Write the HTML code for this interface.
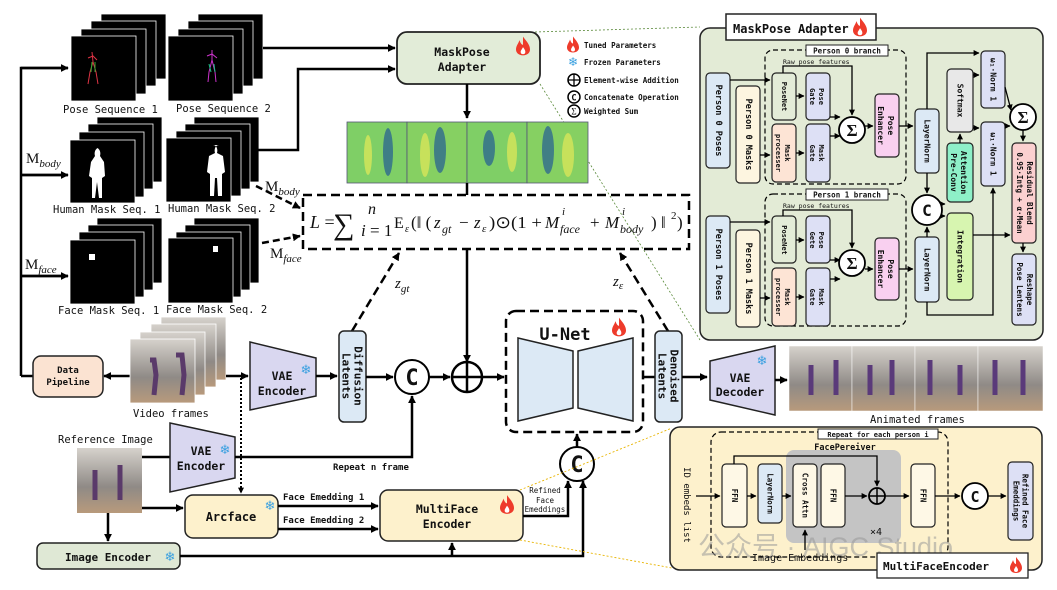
<!DOCTYPE html>
<html><head><meta charset="utf-8"><style>
html,body{margin:0;padding:0;background:#fff;}
svg{display:block;}
.m{font-family:"DejaVu Sans Mono","Liberation Mono",monospace;font-weight:bold;fill:#111;}
.r{font-family:"DejaVu Sans Mono","Liberation Mono",monospace;fill:#111;}
.s{font-family:"Liberation Serif",serif;fill:#111;}
.i{font-style:italic;}
</style></head><body>
<svg width="1057" height="590" viewBox="0 0 1057 590" xmlns="http://www.w3.org/2000/svg">
<defs>
<marker id="a" viewBox="0 0 10 10" refX="9" refY="5" markerWidth="8" markerHeight="8" markerUnits="userSpaceOnUse" orient="auto"><path d="M0,0L10,5L0,10z" fill="#000"/></marker>
<marker id="b" viewBox="0 0 10 10" refX="9" refY="5" markerWidth="6" markerHeight="6" markerUnits="userSpaceOnUse" orient="auto"><path d="M0,0L10,5L0,10z" fill="#000"/></marker>
<symbol id="fl" viewBox="0 0 12 16"><path d="M6,0C9,4 12,7 12,11C12,14 9.5,16 6,16C2.5,16 0,14 0,11C0,8 2,6 3,3C4,6 5,7 6,7C6,5 6,3 6,0z" fill="#ee3b2b"/><path d="M6,9C7.5,11 8,12 8,13C8,14.5 7,15 6,15C5,15 4,14.5 4,13C4,12 5,11 6,9z" fill="#fff"/></symbol>
<linearGradient id="ph" x1="0" y1="0" x2="0" y2="1"><stop offset="0" stop-color="#d6d2cc"/><stop offset="0.6" stop-color="#8f8a86"/><stop offset="1" stop-color="#b89a7c"/></linearGradient>
</defs>

<path d="M21,376V68H68M21,175H68M21,276H68" fill="none" stroke="#000" stroke-width="2.5"/>
<path d="M21,68H68" stroke="#000" stroke-width="2.5" marker-end="url(#a)"/>
<path d="M21,175H68" stroke="#000" stroke-width="2.5" marker-end="url(#a)"/>
<path d="M21,276H68" stroke="#000" stroke-width="2.5" marker-end="url(#a)"/>
<path d="M21,376H33" stroke="#000" stroke-width="2.5"/>
<text x="26" y="163" class="s" font-size="15">M<tspan font-size="11" dy="4" font-style="italic">body</tspan></text>
<text x="25" y="269" class="s" font-size="15">M<tspan font-size="11" dy="4" font-style="italic">face</tspan></text>

<g fill="#000" stroke="#fff" stroke-width="0.8">
<rect x="101" y="14" width="65" height="65"/><rect x="91" y="21" width="65" height="65"/><rect x="81" y="29" width="65" height="65"/><rect x="71" y="36" width="65" height="65"/>
<rect x="198" y="14" width="65" height="65"/><rect x="188" y="21" width="65" height="65"/><rect x="178" y="29" width="65" height="65"/><rect x="168" y="36" width="65" height="65"/>
<rect x="97" y="117" width="65" height="65"/><rect x="88" y="124" width="65" height="65"/><rect x="79" y="132" width="65" height="65"/><rect x="70" y="140" width="65" height="63"/>
<rect x="194" y="117" width="65" height="65"/><rect x="185" y="124" width="65" height="65"/><rect x="176" y="131" width="65" height="65"/><rect x="166" y="138" width="65" height="64"/>
<rect x="97" y="218" width="65" height="65"/><rect x="88" y="225" width="65" height="65"/><rect x="79" y="232" width="65" height="65"/><rect x="70" y="240" width="65" height="64"/>
<rect x="194" y="218" width="65" height="65"/><rect x="185" y="225" width="65" height="65"/><rect x="176" y="232" width="65" height="65"/><rect x="168" y="238" width="65" height="65"/>
</g>
<g stroke-width="1" fill="none">
<path d="M92,52L93,62L90,72L88,84M93,62L96,72L98,84M88,58L93,56L97,60" stroke="#d34"/>
<path d="M92,62L91,72M95,62L95,72" stroke="#3a3"/>
<path d="M212,50L212,60L209,72L208,82M212,60L215,72L216,82M207,56L212,54L217,58" stroke="#c3c"/>
<path d="M209,64L211,72M214,64L215,72" stroke="#2b8"/>
</g>
<path d="M96,148c4,0 5,5 4,8l4,6 1,14-3,2 0,20-3,0-2-16-2,16-3,0 0-20-3-2 2-14 4-6c-1-3 0-8 4-8z" fill="#fff"/>
<path d="M213,145c4,0 5,5 4,8l6,3 2,16-3,2 0,22-4,0-1-18-2,0-1,18-4,0 0-22-3-2 2-16 6-3c-1-3 0-8 4-8z" fill="#fff"/>
<rect x="89" y="254" width="6" height="6" fill="#fff"/>
<rect x="213" y="246" width="5" height="6" fill="#fff"/>
<g class="r" font-size="10.5">
<text x="63" y="113">Pose Sequence 1</text><text x="176" y="112">Pose Sequence 2</text>
<text x="53" y="213">Human Mask Seq. 1</text><text x="168" y="212">Human Mask Seq. 2</text>
<text x="58" y="314">Face Mask Seq. 1</text><text x="166" y="313">Face Mask Seq. 2</text>
</g>

<path d="M263,48H395" stroke="#000" stroke-width="2.5" marker-end="url(#a)"/>
<path d="M258,150H298V69H395" fill="none" stroke="#000" stroke-width="2.5" marker-end="url(#a)"/>
<rect x="397" y="32" width="143" height="52" rx="10" fill="#e2ecd8" stroke="#222" stroke-width="1.8"/>
<text x="462" y="56" class="m" font-size="11.5" text-anchor="middle">MaskPose</text>
<text x="462" y="71" class="m" font-size="11.5" text-anchor="middle">Adapter</text>
<use href="#fl" x="516" y="36" width="14" height="20"/>
<use href="#fl" x="567" y="36" width="12" height="17"/>
<text x="584" y="48" class="m" font-size="7.5">Tuned Parameters</text>
<text x="573" y="66" font-size="12" fill="#3aa0e0" text-anchor="middle">❄</text>
<text x="584" y="65" class="m" font-size="7.5">Frozen Parameters</text>
<circle cx="574" cy="80" r="6" fill="none" stroke="#000" stroke-width="1.5"/><path d="M568,80H580M574,74V86" stroke="#000" stroke-width="1.3"/>
<text x="584" y="83" class="m" font-size="7.5">Element-wise Addition</text>
<circle cx="574" cy="97" r="6" fill="none" stroke="#000" stroke-width="1.5"/><text x="574" y="100.5" class="m" font-size="9" text-anchor="middle">C</text>
<text x="584" y="100" class="m" font-size="7.5">Concatenate Operation</text>
<circle cx="574" cy="111" r="6" fill="none" stroke="#000" stroke-width="1.5"/><text x="574" y="114.5" class="s" font-size="9" text-anchor="middle">Σ</text>
<text x="584" y="114" class="m" font-size="7.5">Weighted Sum</text>

<path d="M535,32L700,27M540,84L700,340" stroke="#5a8a3a" stroke-width="0.8" stroke-dasharray="2,2" fill="none"/>

<path d="M467,84V118" stroke="#000" stroke-width="2.5" marker-end="url(#a)"/>
<g stroke="#557" stroke-width="0.8">
<rect x="347" y="122" width="60" height="61" fill="#7fcf66"/><rect x="407" y="122" width="60" height="61" fill="#86d062"/><rect x="467" y="122" width="60" height="61" fill="#7fcf66"/><rect x="527" y="122" width="61" height="61" fill="#86d062"/>
</g>
<g fill="#2f6a8e" opacity="0.8">
<ellipse cx="388" cy="152" rx="5" ry="24"/><ellipse cx="440" cy="150" rx="6" ry="23"/><ellipse cx="489" cy="148" rx="6" ry="18"/><ellipse cx="548" cy="150" rx="6" ry="24"/>
</g>
<g fill="#d8e65a" opacity="0.8">
<ellipse cx="368" cy="155" rx="4" ry="20"/><ellipse cx="425" cy="155" rx="5" ry="22"/><ellipse cx="512" cy="152" rx="5" ry="20"/><ellipse cx="568" cy="155" rx="6" ry="22"/>
</g>
<path d="M467,183V195" stroke="#000" stroke-width="2.5"/>

<!-- formula -->
<rect x="303" y="195" width="386" height="54" fill="none" stroke="#000" stroke-width="2.5" stroke-dasharray="9,5"/>
<g class="s">
<text x="310" y="228" font-size="18"><tspan class="i">L</tspan> =</text>
<text x="333" y="234" font-size="30">∑</text>
<text x="368" y="214" font-size="16" class="i">n</text>
<text x="361" y="236" font-size="17"><tspan class="i">i</tspan> = 1</text>
<text x="394" y="228" font-size="16">E</text>
<text x="405" y="232" font-size="10" class="i">ε</text>
<text x="411" y="228" font-size="17">(‖ (</text>
<text x="434" y="228" font-size="17" class="i">z</text>
<text x="442" y="233" font-size="12" class="i">gt</text>
<text x="459" y="228" font-size="17">−</text>
<text x="474" y="228" font-size="17" class="i">z</text>
<text x="482" y="232" font-size="11" class="i">ε</text>
<text x="489" y="228" font-size="17" textLength="53" lengthAdjust="spacingAndGlyphs">)⊙(1 +</text>
<text x="545" y="228" font-size="17" class="i">M</text>
<text x="562" y="215" font-size="11" class="i">i</text>
<text x="560" y="233" font-size="12" class="i">face</text>
<text x="590" y="228" font-size="17">+</text>
<text x="605" y="228" font-size="17" class="i">M</text>
<text x="622" y="215" font-size="11" class="i">i</text>
<text x="620" y="233" font-size="12" class="i">body</text>
<text x="651" y="228" font-size="17">) ‖</text>
<text x="671" y="219" font-size="11">2</text>
<text x="677" y="228" font-size="17">)</text>
</g>

<text x="265" y="191" class="s" font-size="15">M<tspan font-size="11" dy="4" font-style="italic">body</tspan></text>
<text x="270" y="258" class="s" font-size="15">M<tspan font-size="11" dy="4" font-style="italic">face</tspan></text>
<path d="M256,186L300,208" stroke="#000" stroke-width="2.5" stroke-dasharray="7,4" marker-end="url(#a)"/>
<path d="M262,243L300,236" stroke="#000" stroke-width="2.5" stroke-dasharray="7,4" marker-end="url(#a)"/>

<path d="M352,331L399,253" stroke="#000" stroke-width="2.5" stroke-dasharray="9,5" marker-end="url(#a)"/>
<text x="395" y="288" class="s" font-size="15" font-style="italic">z<tspan font-size="11" dy="4">gt</tspan></text>
<path d="M668,331L620,253" stroke="#000" stroke-width="2.5" stroke-dasharray="9,5" marker-end="url(#a)"/>
<text x="613" y="286" class="s" font-size="15" font-style="italic">z<tspan font-size="11" dy="3">ε</tspan></text>
<path d="M467,249V362" stroke="#000" stroke-width="2.5" marker-end="url(#a)"/>

<rect x="33" y="356" width="70" height="41" rx="8" fill="#fbe3d2" stroke="#222" stroke-width="1.5"/>
<text x="68" y="373" class="m" font-size="9" text-anchor="middle">Data</text>
<text x="68" y="385" class="m" font-size="9" text-anchor="middle">Pipeline</text>
<path d="M130,376H104" stroke="#000" stroke-width="2.5" marker-end="url(#a)"/>
<g stroke="#fff" stroke-width="0.8">
<rect x="161" y="317" width="65" height="63" fill="url(#ph)"/><rect x="151" y="324" width="65" height="63" fill="url(#ph)"/><rect x="140" y="332" width="65" height="63" fill="url(#ph)"/><rect x="130" y="339" width="65" height="64" fill="url(#ph)"/>
</g>
<path d="M150,360l4,0 2,15-2,20M176,355l6,0 2,20-2,20" stroke="#5a3a6a" stroke-width="5" fill="none"/>
<text x="133" y="417" class="r" font-size="10.5">Video frames</text>
<path d="M226,376H248" stroke="#000" stroke-width="2.5" marker-end="url(#a)"/>
<path d="M250,342L316,358V396L250,410Z" fill="#d9d7f0" stroke="#222" stroke-width="1.5"/>
<text x="282" y="380" class="m" font-size="11.5" text-anchor="middle">VAE</text>
<text x="282" y="395" class="m" font-size="11.5" text-anchor="middle">Encoder</text>
<text x="306" y="374" font-size="13" fill="#3aa0e0" text-anchor="middle">❄</text>
<path d="M316,376H337" stroke="#000" stroke-width="2.5" marker-end="url(#a)"/>
<rect x="339" y="331" width="27" height="91" rx="5" fill="#dce9f5" stroke="#222" stroke-width="1.5"/>
<text transform="translate(352.5,376) rotate(90)" class="m" font-size="11" text-anchor="middle"><tspan x="0" y="-2">Diffusion</tspan><tspan x="0" y="10">Latents</tspan></text>
<path d="M366,377H393" stroke="#000" stroke-width="2.5" marker-end="url(#a)"/>
<circle cx="412" cy="377" r="17" fill="#fff" stroke="#000" stroke-width="2"/>
<text x="412" y="385" class="m" font-size="22" text-anchor="middle">C</text>
<path d="M429,377H450" stroke="#000" stroke-width="2.5" marker-end="url(#a)"/>
<circle cx="467" cy="377" r="15" fill="#fff" stroke="#000" stroke-width="2.5"/>
<path d="M452,377H482M467,362V392" stroke="#000" stroke-width="2.5"/>
<path d="M482,377H504" stroke="#000" stroke-width="2.5" marker-end="url(#a)"/>

<rect x="506" y="311" width="137" height="121" rx="10" fill="none" stroke="#000" stroke-width="2.5" stroke-dasharray="9,5"/>
<text x="565" y="340" class="m" font-size="17" text-anchor="middle">U-Net</text>
<use href="#fl" x="612" y="316" width="14" height="22"/>
<path d="M518,338L573,351V408L518,421Z" fill="#dce9f5" stroke="#222" stroke-width="1.5"/>
<path d="M578,351L633,338V421L578,408Z" fill="#dce9f5" stroke="#222" stroke-width="1.5"/>
<path d="M643,377H655" stroke="#000" stroke-width="2.5"/>
<rect x="655" y="331" width="27" height="91" rx="5" fill="#dce9f5" stroke="#222" stroke-width="1.5"/>
<text transform="translate(668.5,376) rotate(90)" class="m" font-size="11" text-anchor="middle"><tspan x="0" y="-2">Denoised</tspan><tspan x="0" y="10">Latents</tspan></text>
<path d="M682,377H707" stroke="#000" stroke-width="2.5" marker-end="url(#a)"/>
<path d="M710,361L775,346V415L710,400Z" fill="#d9d7f0" stroke="#222" stroke-width="1.5"/>
<text x="740" y="382" class="m" font-size="11.5" text-anchor="middle">VAE</text>
<text x="740" y="396" class="m" font-size="11.5" text-anchor="middle">Decoder</text>
<text x="762" y="365" font-size="13" fill="#3aa0e0" text-anchor="middle">❄</text>
<path d="M775,380H787" stroke="#000" stroke-width="2.5" marker-end="url(#a)"/>
<g stroke="#fff" stroke-width="0.5">
<rect x="789" y="346" width="63" height="65" fill="url(#ph)"/><rect x="852" y="346" width="63" height="65" fill="url(#ph)"/><rect x="915" y="346" width="63" height="65" fill="url(#ph)"/><rect x="978" y="346" width="65" height="65" fill="url(#ph)"/>
</g>
<g stroke-width="5" fill="none">
<path d="M811,365v30M836,360v35M870,365v30M892,360v35M930,360v35M960,365v30M995,360v35M1023,360v35" stroke="#5a3a7a"/>
</g>
<text x="870" y="423" class="r" font-size="10.5">Animated frames</text>

<text x="58" y="443" class="r" font-size="10.5">Reference Image</text>
<rect x="77" y="448" width="65" height="65" fill="url(#ph)"/>
<path d="M95,470v30M120,465v35" stroke="#5a3a6a" stroke-width="5"/>
<path d="M142,457H170" stroke="#000" stroke-width="2.5"/>
<path d="M170,423L235,437V478L170,492Z" fill="#d9d7f0" stroke="#222" stroke-width="1.5"/>
<text x="201" y="455" class="m" font-size="11.5" text-anchor="middle">VAE</text>
<text x="201" y="470" class="m" font-size="11.5" text-anchor="middle">Encoder</text>
<text x="225" y="454" font-size="13" fill="#3aa0e0" text-anchor="middle">❄</text>
<path d="M235,457H412V396" fill="none" stroke="#000" stroke-width="2.5" marker-end="url(#a)"/>
<text x="333" y="470" class="m" font-size="9">Repeat n frame</text>
<path d="M241,378V493" stroke="#000" stroke-width="2" stroke-dasharray="2,2" marker-end="url(#b)"/>
<path d="M142,508H183" stroke="#000" stroke-width="2.5" marker-end="url(#a)"/>
<path d="M108,513V541" stroke="#000" stroke-width="2.5" marker-end="url(#a)"/>
<rect x="185" y="495" width="93" height="43" rx="8" fill="#fdf1cc" stroke="#222" stroke-width="1.5"/>
<text x="231" y="521" class="m" font-size="12" text-anchor="middle">Arcface</text>
<text x="270" y="510" font-size="13" fill="#3aa0e0" text-anchor="middle">❄</text>
<rect x="37" y="543" width="143" height="26" rx="6" fill="#dfe8d5" stroke="#222" stroke-width="1.5"/>
<text x="108" y="561" class="m" font-size="11" text-anchor="middle">Image Encoder</text>
<text x="170" y="561" font-size="13" fill="#3aa0e0" text-anchor="middle">❄</text>
<path d="M278,506H378" stroke="#000" stroke-width="2.5" marker-end="url(#a)"/>
<path d="M278,529H378" stroke="#000" stroke-width="2.5" marker-end="url(#a)"/>
<text x="283" y="500" class="m" font-size="9">Face Emedding 1</text>
<text x="283" y="523" class="m" font-size="9">Face Emedding 2</text>
<rect x="380" y="490" width="143" height="51" rx="8" fill="#fdf1cc" stroke="#222" stroke-width="1.5"/>
<text x="447" y="513" class="m" font-size="11.5" text-anchor="middle">MultiFace</text>
<text x="447" y="528" class="m" font-size="11.5" text-anchor="middle">Encoder</text>
<use href="#fl" x="500" y="494" width="14" height="21"/>
<text x="545" y="493" class="r" font-size="7.5" text-anchor="middle">Refined</text>
<text x="545" y="503" class="r" font-size="7.5" text-anchor="middle">Face</text>
<text x="545" y="512" class="r" font-size="7.5" text-anchor="middle">Emeddings</text>
<path d="M523,516H568V481" fill="none" stroke="#000" stroke-width="2.5" marker-end="url(#a)"/>
<path d="M180,556H583V481" fill="none" stroke="#000" stroke-width="2.5" marker-end="url(#a)"/>
<path d="M452,556V543" stroke="#000" stroke-width="2.5" marker-end="url(#a)"/>
<circle cx="577" cy="464" r="17" fill="#fff" stroke="#000" stroke-width="2"/>
<text x="577" y="472" class="m" font-size="22" text-anchor="middle">C</text>
<path d="M577,447V434" stroke="#000" stroke-width="2.5" marker-end="url(#a)"/>
<path d="M520,490L672,428M520,540L672,568" stroke="#e8b400" stroke-width="0.9" stroke-dasharray="2,2" fill="none"/>

<rect x="700" y="28" width="343" height="312" rx="10" fill="#e3ebd6" stroke="#222" stroke-width="1.5"/>
<rect x="726" y="14" width="150" height="26" fill="#fff" stroke="#222" stroke-width="1.5"/>
<text x="733" y="33" class="m" font-size="12">MaskPose Adapter</text>
<use href="#fl" x="853" y="17" width="14" height="20"/>
<g stroke="#222" stroke-width="1.2">
<rect x="706" y="73" width="24" height="95" rx="4" fill="#dce9f5"/>
<rect x="736" y="86" width="24" height="97" rx="4" fill="#fdf5e0"/>
<rect x="706" y="216" width="24" height="97" rx="4" fill="#dce9f5"/>
<rect x="736" y="230" width="24" height="97" rx="4" fill="#fdf5e0"/>
</g>
<rect x="765" y="50" width="141" height="134" rx="8" fill="none" stroke="#000" stroke-width="1.2" stroke-dasharray="5,3"/>
<rect x="765" y="194" width="141" height="132" rx="8" fill="none" stroke="#000" stroke-width="1.2" stroke-dasharray="5,3"/>
<rect x="806" y="45" width="82" height="11" fill="#fff" stroke="#222"/>
<text x="847" y="53.5" class="m" font-size="7.5" text-anchor="middle">Person 0 branch</text>
<rect x="806" y="189" width="82" height="11" fill="#fff" stroke="#222"/>
<text x="847" y="197.5" class="m" font-size="7.5" text-anchor="middle">Person 1 branch</text>
<text x="783" y="64" class="r" font-size="6.5">Raw pose features</text>
<text x="783" y="208" class="r" font-size="6.5">Raw pose features</text>
<g stroke="#222" stroke-width="1.2">
<rect x="772" y="73" width="24" height="47" rx="4" fill="#e3ecd8"/>
<rect x="772" y="124" width="24" height="58" rx="4" fill="#fde4d5"/>
<rect x="806" y="73" width="24" height="47" rx="4" fill="#dde0f5"/>
<rect x="806" y="124" width="24" height="58" rx="4" fill="#dde0f5"/>
<rect x="875" y="94" width="24" height="63" rx="4" fill="#f9d0f0"/>
<rect x="772" y="216" width="24" height="47" rx="4" fill="#e3ecd8"/>
<rect x="772" y="268" width="24" height="58" rx="4" fill="#fde4d5"/>
<rect x="806" y="216" width="24" height="47" rx="4" fill="#dde0f5"/>
<rect x="806" y="268" width="24" height="58" rx="4" fill="#dde0f5"/>
<rect x="875" y="238" width="24" height="62" rx="4" fill="#f9d0f0"/>
<rect x="915" y="109" width="24" height="64" rx="4" fill="#dce9f5"/>
<rect x="915" y="237" width="24" height="65" rx="4" fill="#dce9f5"/>
<rect x="947" y="69" width="26" height="63" rx="4" fill="#e8e8e8"/>
<rect x="947" y="143" width="26" height="59" rx="4" fill="#8ef0c8"/>
<rect x="947" y="213" width="26" height="87" rx="4" fill="#d7f5b0"/>
<rect x="981" y="51" width="24" height="57" rx="4" fill="#dde0f5"/>
<rect x="981" y="122" width="24" height="64" rx="4" fill="#dde0f5"/>
<rect x="1012" y="143" width="24" height="100" rx="4" fill="#fbd0d0"/>
<rect x="1012" y="254" width="24" height="71" rx="4" fill="#dde0f5"/>
</g>
<g class="m" font-size="8.5" text-anchor="middle">
<text transform="translate(718,120.5) rotate(90)" dominant-baseline="central">Person 0 Poses</text>
<text transform="translate(748,134.5) rotate(90)" dominant-baseline="central">Person 0 Masks</text>
<text transform="translate(718,264.5) rotate(90)" dominant-baseline="central">Person 1 Poses</text>
<text transform="translate(748,278.5) rotate(90)" dominant-baseline="central">Person 1 Masks</text>
</g>
<g class="m" font-size="7" text-anchor="middle">
<text transform="translate(784,96.5) rotate(90)" dominant-baseline="central">PoseNet</text>
<text transform="translate(784,240) rotate(90)" dominant-baseline="central">PoseNet</text>
<text transform="translate(784,153) rotate(90)"><tspan x="0" y="-1">Mask</tspan><tspan x="0" y="8">processer</tspan></text>
<text transform="translate(784,297) rotate(90)"><tspan x="0" y="-1">Mask</tspan><tspan x="0" y="8">processer</tspan></text>
<text transform="translate(818,96.5) rotate(90)"><tspan x="0" y="-1">Pose</tspan><tspan x="0" y="8">Gate</tspan></text>
<text transform="translate(818,153) rotate(90)"><tspan x="0" y="-1">Mask</tspan><tspan x="0" y="8">Gate</tspan></text>
<text transform="translate(818,240) rotate(90)"><tspan x="0" y="-1">Pose</tspan><tspan x="0" y="8">Gete</tspan></text>
<text transform="translate(818,297) rotate(90)"><tspan x="0" y="-1">Mask</tspan><tspan x="0" y="8">Gate</tspan></text>
</g>
<g class="m" font-size="8" text-anchor="middle">
<text transform="translate(887,125.5) rotate(90)"><tspan x="0" y="-1">Pose</tspan><tspan x="0" y="9">Enhancer</tspan></text>
<text transform="translate(887,269) rotate(90)"><tspan x="0" y="-1">Pose</tspan><tspan x="0" y="9">Enhancer</tspan></text>
<text transform="translate(927,141) rotate(90)" dominant-baseline="central">LayerNorm</text>
<text transform="translate(927,269.5) rotate(90)" dominant-baseline="central">LayerNorm</text>
<text transform="translate(960,100.5) rotate(90)" dominant-baseline="central">Softmax</text>
<text transform="translate(960,172.5) rotate(90)"><tspan x="0" y="-1">Attention</tspan><tspan x="0" y="9">Pre-Conv</tspan></text>
<text transform="translate(960,256.5) rotate(90)" dominant-baseline="central">Integration</text>
<text transform="translate(993,79.5) rotate(90)" dominant-baseline="central">ω₁·Norm 1</text>
<text transform="translate(993,154) rotate(90)" dominant-baseline="central">ω₁·Norm 1</text>
<text transform="translate(1024,193) rotate(90)" font-size="7.5"><tspan x="0" y="-3">Residual Blend</tspan><tspan x="0" y="7">0.95·Intg + α·Mean</tspan></text>
<text transform="translate(1024,289.5) rotate(90)" font-size="7.5"><tspan x="0" y="-3">Reshape</tspan><tspan x="0" y="7">Pose Lentens</tspan></text>
</g>
<g stroke="#000" stroke-width="1.3" fill="none">
<path d="M730,80H770" marker-end="url(#b)"/><path d="M760,155H770" marker-end="url(#b)"/>
<path d="M730,222H770" marker-end="url(#b)"/><path d="M760,298H770" marker-end="url(#b)"/>
<path d="M796,96H804" marker-end="url(#b)"/><path d="M796,153H804" marker-end="url(#b)"/>
<path d="M796,240H804" marker-end="url(#b)"/><path d="M796,297H804" marker-end="url(#b)"/>
<path d="M783,73V66H852V115" marker-end="url(#b)"/><path d="M783,216V210H852V248" marker-end="url(#b)"/>
<path d="M830,117H840" marker-end="url(#b)"/><path d="M830,136H840" marker-end="url(#b)"/>
<path d="M830,260H840" marker-end="url(#b)"/><path d="M830,279H840" marker-end="url(#b)"/>
<path d="M865,126H873" marker-end="url(#b)"/><path d="M865,269H873" marker-end="url(#b)"/>
<path d="M899,126H913" marker-end="url(#b)"/><path d="M899,269H913" marker-end="url(#b)"/>
<path d="M927,109V53H979" marker-end="url(#b)"/>
<path d="M927,173V193" marker-end="url(#b)"/><path d="M927,237V227" marker-end="url(#b)"/>
<path d="M927,302V315H993V188" marker-end="url(#b)"/>
<path d="M942,204H945" marker-end="url(#b)"/><path d="M942,216H945" marker-end="url(#b)"/>
<path d="M960,143V134" marker-end="url(#b)"/>
<path d="M973,75H979" marker-end="url(#b)"/><path d="M973,128H979" marker-end="url(#b)"/>
<path d="M1005,87L1011,110" marker-end="url(#b)"/><path d="M1005,126H1010" marker-end="url(#b)"/>
<path d="M1023,130V141" marker-end="url(#b)"/>
<path d="M973,235H1010" marker-end="url(#b)"/>
<path d="M1023,243V252" marker-end="url(#b)"/>
</g>
<g fill="#fff" stroke="#000" stroke-width="1.8">
<circle cx="852" cy="130" r="13"/><circle cx="852" cy="263" r="13"/><circle cx="1023" cy="117" r="13"/><circle cx="927" cy="210" r="15"/>
</g>
<g class="s" font-size="17" font-weight="bold" text-anchor="middle">
<text x="852" y="136">Σ</text><text x="852" y="269">Σ</text><text x="1023" y="123">Σ</text>
</g>
<text x="927" y="216" class="m" font-size="16" text-anchor="middle">C</text>

<rect x="670" y="427" width="372" height="143" rx="10" fill="#fdf1cc" stroke="#222" stroke-width="1.5"/>
<rect x="711" y="432" width="237" height="125" rx="10" fill="none" stroke="#000" stroke-width="1.2" stroke-dasharray="5,3"/>
<rect x="786" y="450" width="115" height="93" rx="8" fill="#c4c4c4"/>
<rect x="818" y="429" width="120" height="10" fill="#fff" stroke="#222"/>
<text x="878" y="437" class="m" font-size="7" text-anchor="middle">Repeat for each person i</text>
<text x="845" y="450" class="m" font-size="8.5" text-anchor="middle">FacePereiver</text>
<text transform="translate(686,505) rotate(90)" class="r" font-size="9" text-anchor="middle" dominant-baseline="central">ID embeds list</text>
<g stroke="#222" stroke-width="1.2">
<rect x="722" y="464" width="25" height="63" rx="4" fill="#fef8e6"/>
<rect x="758" y="464" width="24" height="59" rx="4" fill="#dce9f5"/>
<rect x="793" y="464" width="24" height="63" rx="4" fill="#fef8e6"/>
<rect x="821" y="464" width="24" height="63" rx="4" fill="#fef8e6"/>
<rect x="911" y="464" width="24" height="63" rx="4" fill="#fef8e6"/>
<rect x="1008" y="462" width="25" height="78" rx="4" fill="#dde0f5"/>
</g>
<g class="m" font-size="7.5" text-anchor="middle">
<text transform="translate(734.5,495.5) rotate(90)" dominant-baseline="central">FFN</text>
<text transform="translate(770,493.5) rotate(90)" dominant-baseline="central">LayerNorm</text>
<text transform="translate(805,495.5) rotate(90)" dominant-baseline="central">Cross Attn</text>
<text transform="translate(833,495.5) rotate(90)" dominant-baseline="central">FFN</text>
<text transform="translate(923,495.5) rotate(90)" dominant-baseline="central">FFN</text>
<text transform="translate(1020.5,501) rotate(90)"><tspan x="0" y="-2">Refined Face</tspan><tspan x="0" y="7">Emeddings</tspan></text>
</g>
<g stroke="#000" stroke-width="1.3" fill="none">
<path d="M696,496H720" marker-end="url(#b)"/><path d="M747,496H756" marker-end="url(#b)"/>
<path d="M782,496H791" marker-end="url(#b)"/><path d="M845,496H867" marker-end="url(#b)"/>
<path d="M734,464V456H877V486" marker-end="url(#b)"/>
<path d="M885,496H909" marker-end="url(#b)"/><path d="M935,496H960" marker-end="url(#b)"/>
<path d="M988,496H1006" marker-end="url(#b)"/><path d="M805,550V530" marker-end="url(#b)"/>
</g>
<circle cx="877" cy="496" r="8" fill="none" stroke="#000" stroke-width="1.8"/><path d="M869,496H885M877,488V504" stroke="#000" stroke-width="1.5"/>
<circle cx="975" cy="496" r="13" fill="#fff" stroke="#000" stroke-width="1.8"/>
<text x="975" y="502" class="m" font-size="15" text-anchor="middle">C</text>
<text x="870" y="535" class="r" font-size="10">×4</text>
<text x="698" y="556" font-family="'Liberation Sans','Noto Sans CJK SC',sans-serif" font-size="27" fill="#999" fill-opacity="0.55">公众号 · AIGC Studio</text>
<text x="752" y="561" class="r" font-size="10">Image Embeddings</text>
<rect x="877" y="553" width="151" height="25" fill="#fff" stroke="#222" stroke-width="1.3"/>
<text x="883" y="570" class="m" font-size="11">MultiFaceEncoder</text>
<use href="#fl" x="1010" y="556" width="12" height="18"/>
</svg>
</body></html>
